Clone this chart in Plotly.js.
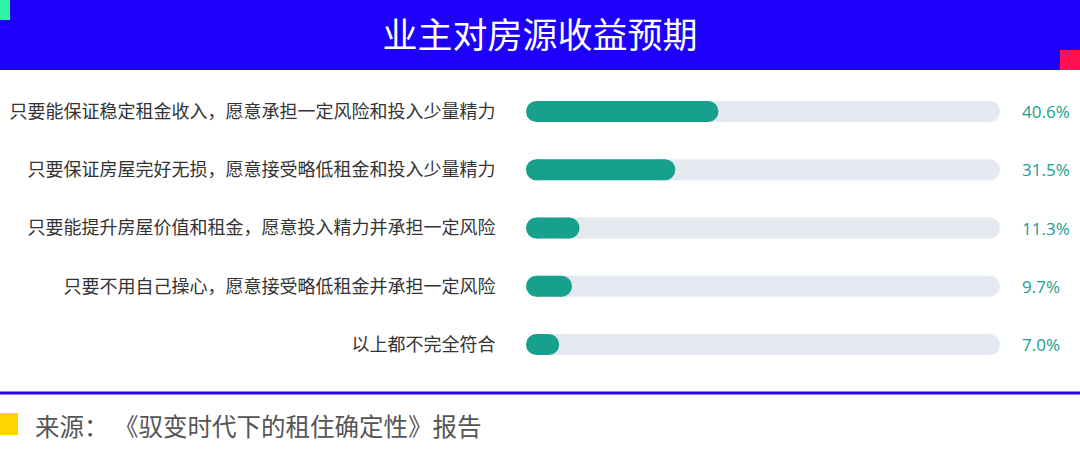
<!DOCTYPE html>
<html lang="zh">
<head>
    <meta charset="UTF-8">
    <script src="https://cdn.plot.ly/plotly-3.0.1.min.js"></script>
    <title>业主对房源收益预期</title>
    <style>
        html, body { margin: 0; padding: 0; background: #fff; }
        #chart { width: 1080px; height: 457px; }
    </style>
</head>
<body>
    <div id="chart"></div>
    <script>
        // data
        var categories = [
            '只要能保证稳定租金收入，愿意承担一定风险和投入少量精力',
            '只要保证房屋完好无损，愿意接受略低租金和投入少量精力',
            '只要能提升房屋价值和租金，愿意投入精力并承担一定风险',
            '只要不用自己操心，愿意接受略低租金并承担一定风险',
            '以上都不完全符合'
        ]
        var shares = [40.6, 31.5, 11.3, 9.7, 7.0]
        var fullScale = 100
        var titleText = '业主对房源收益预期'
        var sourceText = '来源：&nbsp;《驭变时代下的租住确定性》报告'

        var W = 1080, H = 457
        var teal = '#17a08e'
        var track = '#e4e9f0'
        var cjk = '"Noto Sans CJK SC", "Noto Sans", sans-serif'

        var xDomain = [526 / W, 1000 / W]
        var yDomain = [(H - 372) / H, (H - 84) / H]
        var barPx = 21

        // half the bar thickness, in x data units, so the rounded caps stay inside the value
        var plotW = (xDomain[1] - xDomain[0]) * W
        var rd = (barPx / 2) / plotW * fullScale

        function capsule(values) {
            var xs = [], ys = []
            values.forEach(function(v, i) {
                xs.push(rd, v - rd, null)
                ys.push(categories[i], categories[i], null)
            })
            return { x: xs, y: ys }
        }

        var trackPts = capsule(categories.map(function() { return fullScale }))
        var fillPts = capsule(shares)

        var traces = [{
            x: trackPts.x, y: trackPts.y,
            type: 'scatter', mode: 'lines+markers',
            line: { color: track, width: barPx },
            marker: { color: track, size: barPx, line: { width: 0 } },
            cliponaxis: false, hoverinfo: 'skip', showlegend: false
        }, {
            x: fillPts.x, y: fillPts.y,
            type: 'scatter', mode: 'lines+markers',
            line: { color: teal, width: barPx },
            marker: { color: teal, size: barPx, line: { width: 0 } },
            cliponaxis: false, hoverinfo: 'skip', showlegend: false
        }]

        var annotations = shares.map(function(v, i) {
            return {
                xref: 'paper', yref: 'y', x: 1020 / W, y: categories[i],
                xanchor: 'left', yanchor: 'middle', showarrow: false,
                text: v.toFixed(1) + '%',
                font: { family: '"Open Sans", sans-serif', size: 17, color: teal }
            }
        })
        annotations.push({
            xref: 'paper', yref: 'paper', x: 33 / W, y: 1 - 425 / H,
            xanchor: 'left', yanchor: 'middle', showarrow: false,
            text: sourceText,
            font: { family: cjk, size: 24.5, color: '#555555' }
        })

        function py(px) { return 1 - px / H }
        function px(p) { return p / W }

        var shapes = [
            // header band + corner marks
            { type: 'rect', xref: 'paper', yref: 'paper', x0: 0, x1: 1, y0: py(70), y1: 1,
              fillcolor: '#1c00fc', line: { width: 0 }, layer: 'below' },
            { type: 'rect', xref: 'paper', yref: 'paper', x0: 0, x1: px(10), y0: py(20), y1: 1,
              fillcolor: '#2ef5a4', line: { width: 0 }, layer: 'below' },
            { type: 'rect', xref: 'paper', yref: 'paper', x0: px(1060), x1: 1, y0: py(70), y1: py(50),
              fillcolor: '#ff1152', line: { width: 0 }, layer: 'below' },
            // footer rule and marker
            { type: 'line', xref: 'paper', yref: 'paper', x0: 0, x1: 1, y0: py(393), y1: py(393),
              line: { color: '#2500e0', width: 3 } },
            { type: 'rect', xref: 'paper', yref: 'paper', x0: 0, x1: px(18), y0: py(435), y1: py(413),
              fillcolor: '#ffd400', line: { width: 0 } }
        ]

        var layout = {
            width: W, height: H,
            margin: { l: 0, r: 0, t: 0, b: 0 },
            paper_bgcolor: '#fff', plot_bgcolor: 'rgba(0,0,0,0)',
            title: {
                text: titleText,
                x: 0.5, xanchor: 'center', y: 1 - 36 / H, yanchor: 'middle',
                font: { family: cjk, size: 35, color: '#ffffff' }
            },
            xaxis: {
                domain: xDomain, range: [0, fullScale],
                showgrid: false, zeroline: false, showticklabels: false, showline: false, fixedrange: true
            },
            yaxis: {
                domain: yDomain, type: 'category', categoryarray: categories,
                autorange: 'reversed',
                showgrid: false, zeroline: false, showline: false,
                ticks: 'outside', ticklen: 26, tickcolor: 'rgba(0,0,0,0)',
                tickfont: { family: cjk, size: 18, color: '#333333' },
                fixedrange: true
            },
            shapes: shapes,
            annotations: annotations
        }

        Plotly.newPlot('chart', traces, layout, { displayModeBar: false, staticPlot: true })
    </script>
</body>
</html>
